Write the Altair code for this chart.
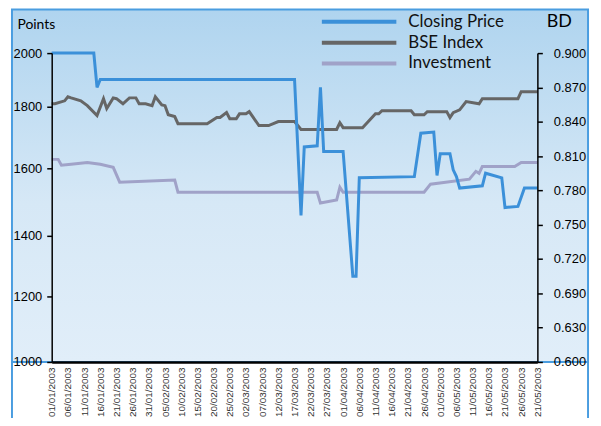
import json
import altair as alt
import pandas as pd

# ---------------- data ----------------
close_dates = ["2003-01-01", "2003-01-14", "2003-01-15", "2003-01-16", "2003-03-17", "2003-03-19",
               "2003-03-20", "2003-03-24", "2003-03-25", "2003-03-26", "2003-04-01", "2003-04-04",
               "2003-04-05", "2003-04-06", "2003-04-23", "2003-04-25", "2003-04-29", "2003-04-30",
               "2003-05-01", "2003-05-04", "2003-05-05", "2003-05-06", "2003-05-07", "2003-05-14",
               "2003-05-15", "2003-05-20", "2003-05-21", "2003-05-25", "2003-05-27", "2003-05-31"]
close_values = [0.900, 0.900, 0.870, 0.877, 0.877, 0.758,
                0.818, 0.819, 0.870, 0.814, 0.814, 0.705,
                0.705, 0.791, 0.792, 0.830, 0.831, 0.793,
                0.812, 0.812, 0.798, 0.792, 0.782, 0.784,
                0.795, 0.791, 0.765, 0.766, 0.782, 0.782]

bse_dates = ["2003-01-01", "2003-01-02", "2003-01-05", "2003-01-06", "2003-01-07", "2003-01-10",
             "2003-01-12", "2003-01-15", "2003-01-17", "2003-01-18", "2003-01-20", "2003-01-21",
             "2003-01-23", "2003-01-25", "2003-01-27", "2003-01-28", "2003-01-30", "2003-02-01",
             "2003-02-02", "2003-02-04", "2003-02-05", "2003-02-06", "2003-02-08", "2003-02-09",
             "2003-02-18", "2003-02-21", "2003-02-22", "2003-02-24", "2003-02-25", "2003-02-27",
             "2003-02-28", "2003-03-02", "2003-03-03", "2003-03-06", "2003-03-09", "2003-03-12",
             "2003-03-17", "2003-03-19", "2003-03-30", "2003-03-31", "2003-04-01", "2003-04-07",
             "2003-04-11", "2003-04-12", "2003-04-13", "2003-04-22", "2003-04-23", "2003-04-26",
             "2003-04-27", "2003-05-03", "2003-05-04", "2003-05-05", "2003-05-07", "2003-05-09",
             "2003-05-13", "2003-05-14", "2003-05-25", "2003-05-26", "2003-05-31"]
bse_values = [1811, 1811, 1822, 1837, 1833, 1822,
              1804, 1771, 1830, 1794, 1833, 1830,
              1811, 1833, 1833, 1811, 1811, 1804,
              1837, 1807, 1804, 1774, 1768, 1745,
              1745, 1765, 1765, 1781, 1761, 1761,
              1777, 1777, 1784, 1739, 1739, 1752,
              1752, 1726, 1726, 1748, 1732, 1732,
              1777, 1777, 1787, 1787, 1774, 1774,
              1784, 1784, 1765, 1781, 1790, 1819,
              1811, 1830, 1830, 1856, 1856]

inv_dates = ["2003-01-01", "2003-01-03", "2003-01-04", "2003-01-07", "2003-01-12", "2003-01-16",
             "2003-01-20", "2003-01-22", "2003-02-08", "2003-02-09", "2003-03-24", "2003-03-25",
             "2003-03-30", "2003-03-31", "2003-04-01", "2003-04-26", "2003-04-28", "2003-05-10",
             "2003-05-12", "2003-05-13", "2003-05-14", "2003-05-24", "2003-05-26", "2003-05-31"]
inv_values = [1629, 1629, 1610, 1613, 1619, 1613,
              1603, 1559, 1565, 1529, 1529, 1497,
              1506, 1544, 1529, 1529, 1553, 1568,
              1591, 1585, 1606, 1606, 1619, 1619]

series_names = ["Closing Price", "BSE Index", "Investment"]
series_colors = ["#3b90d9", "#666666", "#a0a2c8"]

x_tick_labels = ["01/01/2003", "06/01/2003", "11/01/2003", "16/01/2003", "21/01/2003", "26/01/2003",
                 "31/01/2003", "05/02/2003", "10/02/2003", "15/02/2003", "20/02/2003", "25/02/2003",
                 "02/03/2003", "07/03/2003", "12/03/2003", "17/03/2003", "22/03/2003", "27/03/2003",
                 "01/04/2003", "06/04/2003", "11/04/2003", "16/04/2003", "21/04/2003", "26/04/2003",
                 "01/05/2003", "06/05/2003", "11/05/2003", "16/05/2003", "21/05/2003", "26/05/2003",
                 "21/05/2003"]
left_ticks = [1000, 1200, 1400, 1600, 1800, 2000]
right_tick_labels = ["0.600", "0.630", "0.690", "0.720", "0.750", "0.780", "0.810", "0.840", "0.870", "0.900"]
right_ticks = [0.63, 0.66, 0.69, 0.72, 0.75, 0.78, 0.81, 0.84, 0.87, 0.90]

# ---------------- tables ----------------
start = pd.Timestamp("2003-01-01")


def table(dates, values, name):
    d = pd.to_datetime(pd.Series(dates))
    return pd.DataFrame({"day": (d - start).dt.days, "value": values, "series": name})


df_close = table(close_dates, close_values, "Closing Price")
df_left = pd.concat([table(bse_dates, bse_values, "BSE Index"),
                     table(inv_dates, inv_values, "Investment")], ignore_index=True)

W, H = 489, 311
FONT = "Liberation Sans"
TFONT = "Lato"

xscale = alt.Scale(domain=[0, 150], nice=False, zero=False)
xaxis = alt.Axis(values=list(range(0, 151, 5)),
                 labelExpr=json.dumps(x_tick_labels) + "[round(datum.value / 5)]",
                 labelAngle=270, labelFont=FONT, labelFontSize=10, labelColor="#333333",
                 labelPadding=5, labelFlush=False, labelOverlap=False,
                 ticks=False, domainColor="black", domainWidth=2.5, title=None, grid=False,
                 zindex=2)

color = alt.Color("series:N",
                  scale=alt.Scale(domain=series_names, range=series_colors),
                  legend=alt.Legend(orient="none", legendX=300, legendY=-41, title=None,
                                    symbolType="M-5,0H5", symbolSize=225, symbolStrokeWidth=4,
                                    labelFont=TFONT, labelFontSize=17, labelColor="#111111",
                                    rowPadding=3, labelOffset=40, padding=0, zindex=2))

gradient = alt.Gradient(gradient="linear", x1=0, x2=0, y1=0, y2=1,
                        stops=[alt.GradientStop(color="#afd4ef", offset=0),
                               alt.GradientStop(color="#d6e8f6", offset=0.55),
                               alt.GradientStop(color="#e1eef9", offset=1)])

one = pd.DataFrame({"k": [0]})
bg = alt.Chart(one).mark_rect(fill=gradient, stroke="#4a9de0", strokeWidth=2).encode(
    x=alt.value(-40), x2=alt.value(W + 51), y=alt.value(-44), y2=alt.value(H))
rule_l = alt.Chart(one).mark_rule(color="#4a9de0", strokeWidth=2).encode(
    x=alt.value(-40), y=alt.value(H), y2=alt.value(H + 70))
rule_r = alt.Chart(one).mark_rule(color="#4a9de0", strokeWidth=2).encode(
    x=alt.value(W + 51), y=alt.value(H), y2=alt.value(H + 70))

left = alt.Chart(df_left).mark_line(strokeWidth=3).encode(
    x=alt.X("day:Q", scale=xscale, axis=xaxis),
    y=alt.Y("value:Q",
            scale=alt.Scale(domain=left_ticks, range=[311, 245, 184, 116, 54, 0], nice=False, zero=False),
            axis=alt.Axis(orient="left", values=left_ticks, format="d", grid=False, zindex=2,
                          labelFont=FONT, labelFontSize=13, labelColor="black", labelPadding=5,
                          labelFlush=False, tickColor="black", tickSize=5, tickWidth=1.5,
                          domainColor="black", domainWidth=1.5,
                          title="Points", titleAngle=0, titleX=-35, titleY=-29,
                          titleAlign="left", titleBaseline="middle", titleFont=TFONT,
                          titleFontSize=14, titleFontWeight="normal", titleColor="black")),
    color=color)

right = alt.Chart(df_close).mark_line(strokeWidth=3).encode(
    x=alt.X("day:Q", scale=xscale, axis=xaxis),
    y=alt.Y("value:Q", scale=alt.Scale(domain=[0.63, 0.90], nice=False, zero=False),
            axis=alt.Axis(orient="right", values=right_ticks, grid=False, zindex=2,
                          labelExpr=json.dumps(right_tick_labels) + "[round((datum.value - 0.63) / 0.03)]",
                          labelFont=FONT, labelFontSize=13, labelColor="black", labelPadding=11,
                          labelFlush=False, tickColor="black", tickSize=5, tickWidth=1.5,
                          domainColor="black", domainWidth=1.5,
                          title="BD", titleAngle=0, titleX=9, titleY=-32,
                          titleAlign="left", titleBaseline="middle", titleFont=TFONT,
                          titleFontSize=18, titleFontWeight="normal", titleColor="black")),
    color=color)

chart = alt.layer(bg, rule_l, rule_r, left, right).resolve_scale(y="independent").properties(
    width=W, height=H, autosize="none",
    padding={"left": 44, "top": 44, "right": 56, "bottom": 55},
).configure_view(stroke=None)

chart.save("out.html", embed_options={"renderer": "svg", "actions": False})
